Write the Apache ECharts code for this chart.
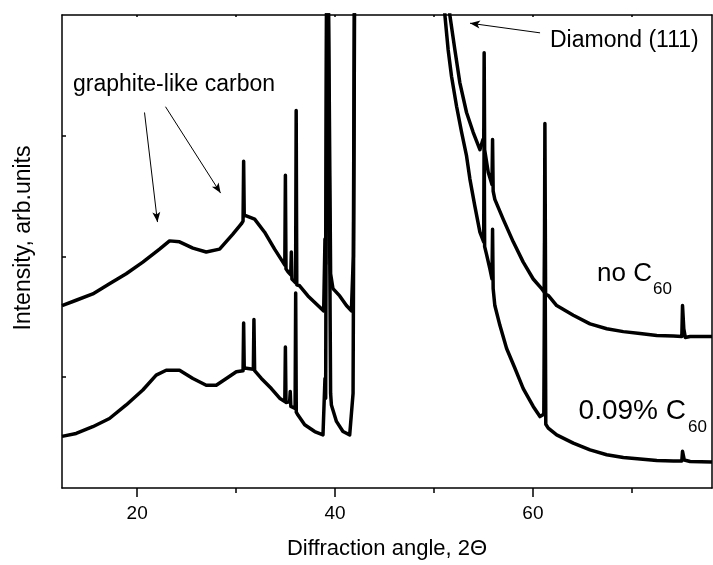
<!DOCTYPE html>
<html>
<head>
<meta charset="utf-8">
<script src="https://cdn.jsdelivr.net/npm/echarts@6/dist/echarts.min.js"></script>
<style>
    html, body { margin: 0; padding: 0; background: #fff; }
    #chart { width: 713px; height: 565px; }
</style>
</head>
<body>
<div id="chart"></div>
<script>
// 2theta (deg), intensity (arb. units); values > 100 are off the top of the plot
var noC60 = [
    [12.40, 39.8], [13.83, 40.9], [15.51, 42.2], [17.20, 44.3], [18.89, 46.4], [20.57, 48.8], [22.26, 51.5],
    [23.27, 53.2], [24.28, 53.0], [25.63, 51.7], [26.98, 50.9], [28.33, 51.5], [29.67, 54.6], [30.52, 56.7],
    [30.70, 57.3], [30.76, 69.7], [30.82, 58.4], [31.03, 58.4], [31.87, 57.7], [32.88, 55.0], [33.89, 51.5],
    [34.73, 48.8], [34.92, 48.2], [34.98, 66.8], [35.04, 47.4], [35.24, 46.8], [35.52, 46.2], [35.58, 50.9],
    [35.64, 45.3], [36.01, 44.5], [36.07, 80.2], [36.13, 44.1], [36.42, 43.9], [37.26, 41.8], [38.27, 39.8],
    [38.85, 38.7], [38.92, 38.7], [38.98, 53.6], [39.05, 48.4], [39.20, 140], [39.40, 140], [39.55, 46.4],
    [39.79, 43.3], [40.47, 41.8], [41.15, 39.8], [41.65, 38.7], [41.85, 50.1], [42.02, 140],
    [44.00, 160], [51.20, 110],
    [51.60, 100.0], [52.11, 92.8], [52.61, 86.0], [53.29, 79.8], [53.96, 75.7], [54.64, 72.1], [54.95, 74.2],
    [55.03, 73.2], [55.07, 92.2], [55.12, 72.1], [55.48, 67.4], [55.86, 64.9], [55.92, 74.2], [55.98, 63.5],
    [56.15, 61.8], [56.99, 57.7], [58.01, 53.0], [59.02, 48.8], [60.03, 45.3], [60.88, 43.3],
    [61.15, 42.6], [61.21, 77.5], [61.28, 42.2], [61.55, 41.9], [62.40, 39.8], [64.08, 37.8], [65.77, 36.0],
    [67.46, 35.0], [69.14, 34.4], [70.83, 34.0], [72.52, 33.6], [74.20, 33.5],
    [75.05, 33.4], [75.12, 39.8], [75.25, 35.0], [75.40, 33.2], [75.89, 33.4], [78.10, 33.4]
];
var c60 = [
    [12.40, 12.7], [13.83, 13.3], [15.51, 14.7], [17.20, 16.4], [18.89, 19.2], [20.57, 22.3], [21.92, 25.4],
    [22.93, 26.4], [24.28, 26.4], [25.63, 24.7], [26.98, 23.3], [27.99, 23.3], [29.01, 24.7], [30.02, 26.1],
    [30.70, 26.3], [30.76, 36.2], [30.82, 26.8], [31.03, 26.8], [31.74, 26.6], [31.80, 36.9], [31.87, 26.3],
    [32.55, 24.7], [33.56, 22.6], [34.40, 20.6], [34.92, 19.9], [34.98, 31.2], [35.04, 19.7], [35.41, 19.9],
    [35.47, 22.0], [35.53, 18.9], [35.96, 18.5], [36.02, 42.4], [36.08, 17.7], [36.25, 17.1], [36.93, 15.1],
    [37.94, 13.7], [38.78, 13.0], [38.90, 13.1], [38.98, 24.7], [39.05, 20.6], [39.20, 140], [39.40, 140],
    [39.55, 21.6], [39.63, 19.2], [40.14, 15.8], [40.80, 13.7], [41.48, 13.0], [41.82, 21.6], [42.04, 140],
    [44.00, 160], [50.80, 110],
    [51.10, 100.0], [51.43, 92.8], [51.77, 87.3], [52.28, 81.1], [52.79, 75.7], [53.29, 70.8], [53.63, 66.0],
    [54.13, 60.4], [54.64, 55.0], [55.02, 53.0], [55.07, 76.3], [55.12, 52.0], [55.30, 50.5], [55.65, 47.4],
    [55.86, 45.3], [55.92, 55.6], [55.98, 43.3], [56.15, 39.8], [56.66, 35.7], [57.34, 30.9], [58.18, 26.8],
    [59.02, 22.6], [60.03, 18.9], [60.71, 16.8], [61.10, 17.3], [61.21, 59.8], [61.30, 15.2], [61.55, 14.4],
    [62.40, 13.0], [64.08, 11.3], [65.77, 9.9], [67.46, 8.9], [69.14, 8.3], [70.83, 8.0], [72.52, 7.7],
    [74.20, 7.6], [75.05, 7.6], [75.12, 9.6], [75.30, 7.8], [75.89, 7.5], [78.10, 7.4]
];
var majorTicks = [20, 40, 60];
var minorTicks = [30, 50, 70];
var yTicks = [25, 50, 75];
// annotation arrows, [from, to] in data coords
var arrows = [
    [[20.74, 79.8], [22.05, 57.1]],
    [[22.86, 81.0], [28.43, 63.1]],
    [[60.72, 96.3], [53.64, 98.3]]
];

var FONT = '"Liberation Sans", Arial, sans-serif';
var chart = echarts.init(document.getElementById('chart'));

var arrowData = [];
for (var i = 0; i < arrows.length; i++) {
    arrowData.push([{ coord: arrows[i][0] }, { coord: arrows[i][1] }]);
}

function txt(text, x, y, size, align) {
    return {
        type: 'text', x: x, y: y, silent: true,
        style: {
            text: text, fill: '#000', textAlign: align || 'left', textVerticalAlign: 'middle',
            font: size + 'px ' + FONT
        }
    };
}

var option = {
    animation: false,
    backgroundColor: '#fff',
    grid: { left: 62, right: 1, top: 15, bottom: 75, containLabel: false },
    xAxis: [{
        type: 'value', min: 12.4, max: 78.1, position: 'bottom',
        name: 'Diffraction angle, 2\u0398', nameLocation: 'middle', nameGap: 50,
        nameTextStyle: { fontSize: 22, color: '#000', fontFamily: FONT },
        axisLine: { show: true, lineStyle: { color: '#000', width: 1.5 } },
        axisTick: { show: true, customValues: majorTicks, length: 9, lineStyle: { color: '#000', width: 1.5 } },
        axisLabel: { customValues: majorTicks, margin: 16, fontSize: 19, color: '#000', fontFamily: FONT },
        splitLine: { show: false }
    }, {
        type: 'value', min: 12.4, max: 78.1, position: 'bottom',
        axisLine: { show: false },
        axisTick: { show: true, customValues: minorTicks, length: 5, lineStyle: { color: '#000', width: 1.5 } },
        axisLabel: { show: false },
        splitLine: { show: false }
    }, {
        type: 'value', min: 12.4, max: 78.1, position: 'top',
        axisLine: { show: true, lineStyle: { color: '#000', width: 1.5 } },
        axisTick: { show: true, inside: true, customValues: majorTicks.concat(minorTicks), length: 2, lineStyle: { color: '#000', width: 1.5 } },
        axisLabel: { show: false },
        splitLine: { show: false }
    }],
    yAxis: [{
        type: 'value', min: 2, max: 100, position: 'left',
        axisLine: { show: true, lineStyle: { color: '#000', width: 1.5 } },
        axisTick: { show: true, inside: true, customValues: yTicks, length: 4, lineStyle: { color: '#000', width: 1.5 } },
        axisLabel: { show: false },
        splitLine: { show: false }
    }, {
        type: 'value', min: 2, max: 100, position: 'right',
        axisLine: { show: true, lineStyle: { color: '#000', width: 1.5 } },
        axisTick: { show: false },
        axisLabel: { show: false },
        splitLine: { show: false }
    }],
    series: [{
        name: 'no C60', type: 'line', data: noC60, showSymbol: false, clip: true,
        lineStyle: { color: '#000', width: 3.5, join: 'round' },
        markLine: {
            silent: true, symbol: ['none', 'arrow'], symbolSize: [6, 10], label: { show: false },
            lineStyle: { color: '#000', width: 1, type: 'solid' },
            data: arrowData
        }
    }, {
        name: '0.09% C60', type: 'line', data: c60, showSymbol: false, clip: true,
        lineStyle: { color: '#000', width: 3.5, join: 'round' }
    }],
    graphic: [
        {
            type: 'text', x: 24, y: 238, rotation: Math.PI / 2, silent: true,
            style: { text: 'Intensity, arb.units', fill: '#000', textAlign: 'center', textVerticalAlign: 'middle', font: '23px ' + FONT }
        },
        txt('graphite-like carbon', 73, 85, 23),
        txt('Diamond (111)', 550, 41, 23),
        txt('no C', 652, 274, 26, 'right'),
        txt('60', 653, 289, 17),
        txt('0.09% C', 686, 411, 28, 'right'),
        txt('60', 688, 427, 17)
    ]
};
chart.setOption(option);
</script>
</body>
</html>
